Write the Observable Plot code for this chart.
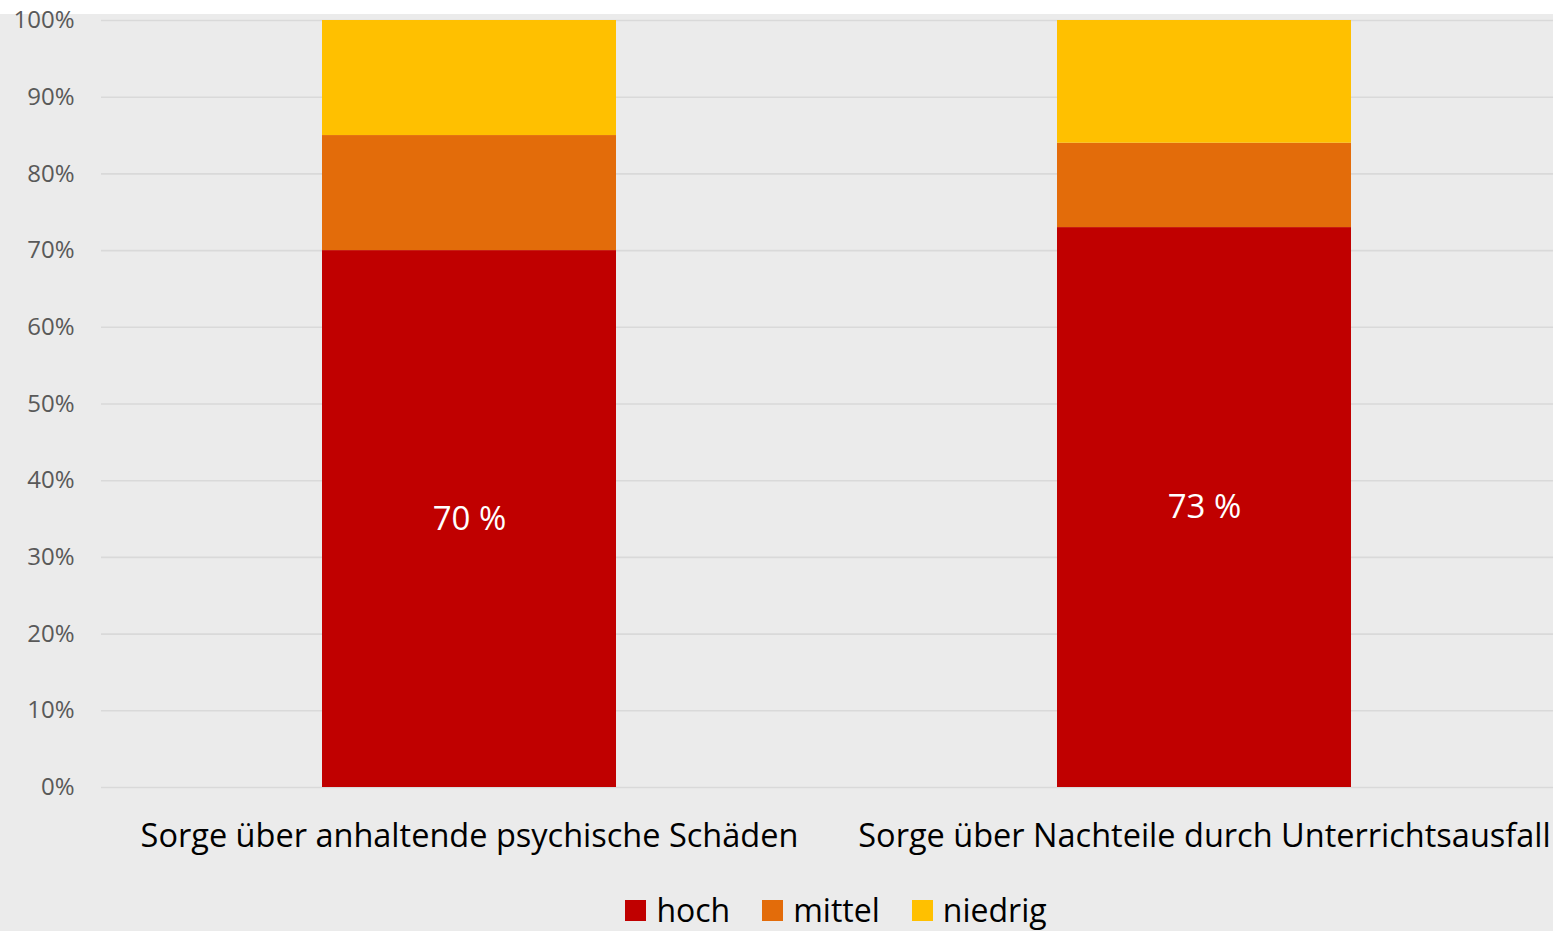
<!DOCTYPE html>
<html>
<head>
<meta charset="utf-8">
<script src="https://cdn.jsdelivr.net/npm/d3@7"></script>
<script src="https://cdn.jsdelivr.net/npm/@observablehq/plot@0.6"></script>
<style>
  html, body { margin: 0; padding: 0; background: #ffffff; overflow: hidden; }
  #wrap { margin-top: 14px; width: 1553px; height: 917px; background: #ebebeb; overflow: visible; position: relative; font-family: "Open Sans", sans-serif; }
  #chart svg { overflow: visible; display: block; }
  #legend { position: absolute; left: 101px; width: 1470px; top: 880px; display: flex; justify-content: center; align-items: center; font-size: 32px; line-height: 1; color: #000; }
  .item { display: flex; align-items: center; margin: 0 16px; }
  .sw { width: 21px; height: 21px; margin-right: 10px; }
</style>
</head>
<body>
<div id="wrap"><div id="chart"></div><div id="legend"></div></div>
<script>
const categories = ["Sorge über anhaltende psychische Schäden", "Sorge über Nachteile durch Unterrichtsausfall"];
const levels = ["hoch", "mittel", "niedrig"];
const levelColors = ["#c00000", "#e36c0a", "#ffc000"];
const hoch = [70, 73];
const mittel = [15, 11];
const niedrig = [15, 16];
const yTicks = [0, 10, 20, 30, 40, 50, 60, 70, 80, 90, 100];

const series = {hoch, mittel, niedrig};
const data = [];
categories.forEach((c, i) => {
  levels.forEach(l => data.push({cat: c, level: l, value: series[l][i]}));
});

const chart = Plot.plot({
  width: 1553,
  height: 862,
  marginTop: 6,
  marginBottom: 89,
  marginLeft: 101,
  marginRight: 0,
  style: {background: "transparent", fontFamily: "'Open Sans', sans-serif", overflow: "visible"},
  x: {domain: categories, range: [101, 1571], paddingInner: 0.6, paddingOuter: 0.3, label: null},
  y: {domain: [0, 100], label: null},
  color: {domain: levels, range: levelColors},
  marks: [
    Plot.gridY({ticks: yTicks, stroke: "#d9d9d9", strokeOpacity: 1, strokeWidth: 1.6}),
    Plot.barY(data, {x: "cat", y: "value", fill: "level"}),
    Plot.text(data.filter(d => d.level === "hoch"), {x: "cat", y: d => d.value / 2, text: d => d.value + " %", fill: "white", fontSize: 33}),
    Plot.axisY({ticks: yTicks, tickSize: 0, tickPadding: 27, tickFormat: d => d + "%", fontSize: 24, color: "#595959"}),
    Plot.axisX({tickSize: 0, tickPadding: 36, fontSize: 32.5, color: "#000000"})
  ]
});
document.getElementById("chart").appendChild(chart);

const legend = document.getElementById("legend");
levels.forEach((l, i) => {
  const item = document.createElement("div");
  item.className = "item";
  const sw = document.createElement("div");
  sw.className = "sw";
  sw.style.background = levelColors[i];
  const t = document.createElement("span");
  t.textContent = l;
  item.appendChild(sw);
  item.appendChild(t);
  legend.appendChild(item);
});
</script>
</body>
</html>
